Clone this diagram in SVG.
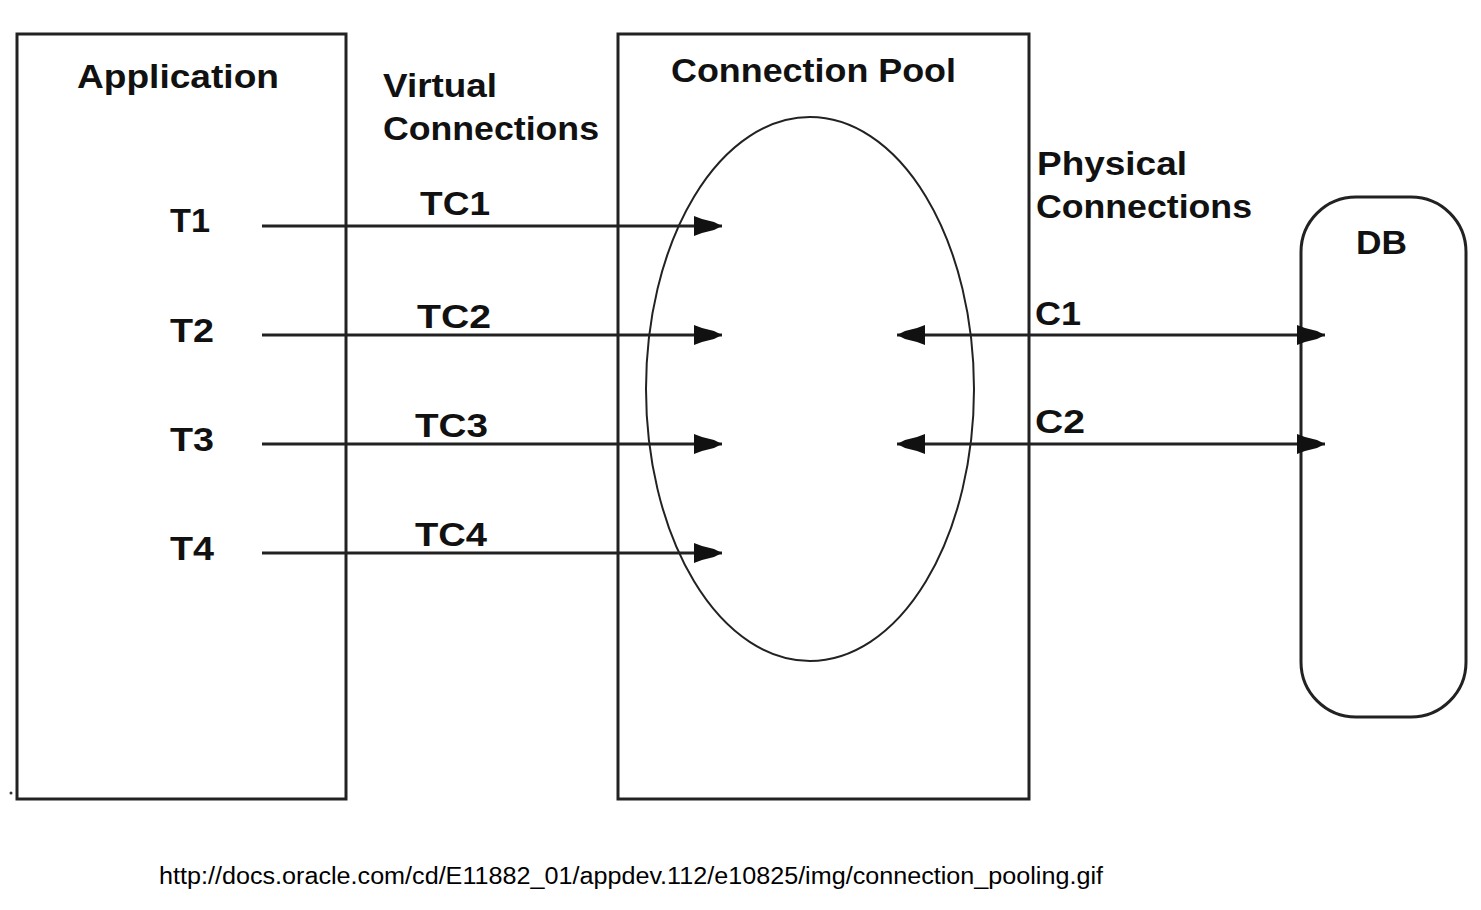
<svg xmlns="http://www.w3.org/2000/svg" width="1481" height="910" viewBox="0 0 1481 910">
<style>
.box{fill:none;stroke:#222;stroke-width:3}
.lbl{font-family:"Liberation Sans",Arial,sans-serif;font-weight:bold;font-size:33px;fill:#111}
.conn{stroke:#222;stroke-width:3;fill:none}
.url{font-family:"Liberation Sans",Arial,sans-serif;font-size:23px;fill:#000}
</style>
<defs>
<marker id="ah" markerUnits="userSpaceOnUse" viewBox="0 -11 30 22" refX="28" refY="0" markerWidth="30" markerHeight="22" orient="auto-start-reverse">
<path d="M0,-10 L8,-7 L20,-4 L28,0 L20,4 L8,7 L0,10 Z" fill="#111"/>
</marker>
</defs>
<rect width="1481" height="910" fill="#fff"/>
<g id="application">
<rect class="box" x="17" y="34" width="329" height="765"/>
<text class="lbl" x="77" y="88" textLength="202" lengthAdjust="spacingAndGlyphs">Application</text>
<text class="lbl" x="170" y="232" textLength="40" lengthAdjust="spacingAndGlyphs">T1</text>
<text class="lbl" x="170" y="342" textLength="44" lengthAdjust="spacingAndGlyphs">T2</text>
<text class="lbl" x="170" y="451" textLength="44" lengthAdjust="spacingAndGlyphs">T3</text>
<text class="lbl" x="170" y="560" textLength="44" lengthAdjust="spacingAndGlyphs">T4</text>
</g>
<g id="virtual-label">
<text class="lbl" x="383" y="97" textLength="114" lengthAdjust="spacingAndGlyphs">Virtual</text>
<text class="lbl" x="383" y="140" textLength="216" lengthAdjust="spacingAndGlyphs">Connections</text>
</g>
<g id="connection-pool">
<rect class="box" x="618" y="34" width="411" height="765"/>
<text class="lbl" x="671" y="82" textLength="285" lengthAdjust="spacingAndGlyphs">Connection Pool</text>
<ellipse cx="810" cy="389" rx="164" ry="272" fill="none" stroke="#222" stroke-width="2"/>
</g>
<g id="physical-label">
<text class="lbl" x="1037" y="175" textLength="150" lengthAdjust="spacingAndGlyphs">Physical</text>
<text class="lbl" x="1036" y="218" textLength="216" lengthAdjust="spacingAndGlyphs">Connections</text>
</g>
<g id="db">
<rect class="box" x="1301" y="197" width="165" height="520" rx="55" ry="55"/>
<text class="lbl" x="1356" y="254" textLength="51" lengthAdjust="spacingAndGlyphs">DB</text>
</g>
<g id="connectors">
<line class="conn" x1="262" y1="226" x2="722" y2="226" marker-end="url(#ah)"/>
<line class="conn" x1="262" y1="335" x2="722" y2="335" marker-end="url(#ah)"/>
<line class="conn" x1="262" y1="444" x2="722" y2="444" marker-end="url(#ah)"/>
<line class="conn" x1="262" y1="553" x2="722" y2="553" marker-end="url(#ah)"/>
<line class="conn" x1="897" y1="335" x2="1325" y2="335" marker-start="url(#ah)" marker-end="url(#ah)"/>
<line class="conn" x1="897" y1="444" x2="1325" y2="444" marker-start="url(#ah)" marker-end="url(#ah)"/>
<text class="lbl" x="420" y="215" textLength="70" lengthAdjust="spacingAndGlyphs">TC1</text>
<text class="lbl" x="417" y="328" textLength="74" lengthAdjust="spacingAndGlyphs">TC2</text>
<text class="lbl" x="415" y="437" textLength="73" lengthAdjust="spacingAndGlyphs">TC3</text>
<text class="lbl" x="415" y="546" textLength="72" lengthAdjust="spacingAndGlyphs">TC4</text>
<text class="lbl" x="1035" y="325" textLength="46" lengthAdjust="spacingAndGlyphs">C1</text>
<text class="lbl" x="1035" y="433" textLength="50" lengthAdjust="spacingAndGlyphs">C2</text>
</g>
<circle cx="11" cy="793" r="1.5" fill="#333"/>
<text class="url" x="159" y="884" textLength="944" lengthAdjust="spacingAndGlyphs">http://docs.oracle.com/cd/E11882_01/appdev.112/e10825/img/connection_pooling.gif</text>
</svg>
